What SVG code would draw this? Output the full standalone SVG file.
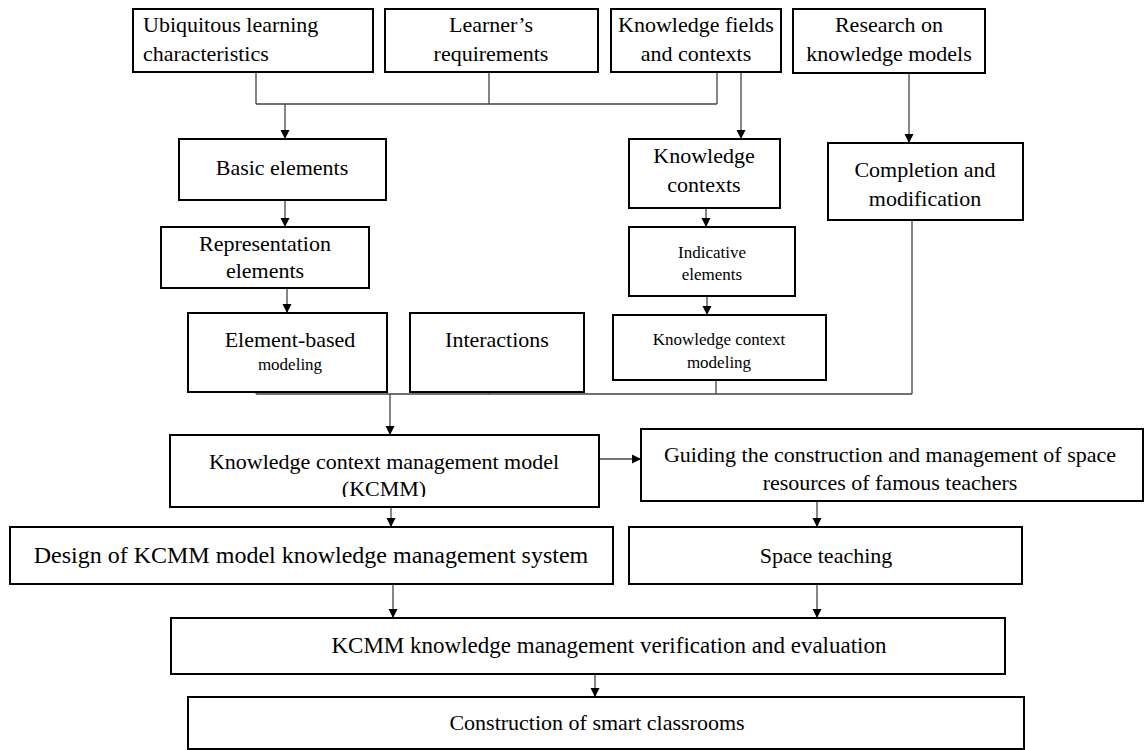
<svg xmlns="http://www.w3.org/2000/svg" width="1145" height="750" viewBox="0 0 1145 750">
<defs>
<marker id="ah" markerUnits="userSpaceOnUse" markerWidth="10" markerHeight="10" refX="9" refY="5" orient="auto">
<path d="M0,0.5 L9,5 L0,9.5 Z" fill="#000"/>
</marker>
<clipPath id="clipK"><rect x="170" y="435" width="429" height="62"/></clipPath>
<clipPath id="clipG"><rect x="641" y="429" width="502" height="63"/></clipPath>
<style>
.b{fill:#fff;stroke:#000;stroke-width:2}
.t{font-family:"Liberation Serif","Times New Roman",serif;font-size:22px;fill:#000;text-anchor:middle}
.l{text-anchor:start}
.s{font-size:17px}
.c{fill:none;stroke:#444;stroke-width:1.3}
.a{fill:none;stroke:#444;stroke-width:1.3;marker-end:url(#ah)}
</style>
</defs>
<rect width="1145" height="750" fill="#fff"/>
<g id="connectors">
<path class="c" d="M256,72 V104 M489,72 V104 M717,72 V104 M256,104 H717"/>
<path class="a" d="M285,104 V139"/>
<path class="a" d="M741,72 V139"/>
<path class="a" d="M909,73 V143"/>
<path class="a" d="M285,200 V227"/>
<path class="a" d="M287,288 V313"/>
<path class="a" d="M706,208 V227"/>
<path class="a" d="M707,296 V315"/>
<path class="c" d="M256,392 V394 M489,392 V394 M716,380 V394 M912,220 V394 M256,394 H912"/>
<path class="a" d="M390,394 V435"/>
<path class="a" d="M599,459 H641"/>
<path class="a" d="M391,507 V527"/>
<path class="a" d="M817,501 V527"/>
<path class="a" d="M393,584 V618"/>
<path class="a" d="M817,584 V618"/>
<path class="a" d="M595,674 V697"/>
</g>
<g id="n1"><rect class="b" x="133" y="9" width="240" height="63"/>
<text class="t l" x="143" y="32">Ubiquitous learning</text><text class="t l" x="143" y="61">characteristics</text></g>
<g id="n2"><rect class="b" x="385" y="9" width="213" height="63"/>
<text class="t" x="491" y="32">Learner’s</text><text class="t" x="491" y="61">requirements</text></g>
<g id="n3"><rect class="b" x="611" y="9" width="170" height="63"/>
<text class="t" x="696" y="32">Knowledge fields</text><text class="t" x="696" y="61">and contexts</text></g>
<g id="n4"><rect class="b" x="793" y="9" width="192" height="64"/>
<text class="t" x="889" y="32">Research on</text><text class="t" x="889" y="61">knowledge models</text></g>
<g id="n5"><rect class="b" x="179" y="139" width="207" height="61"/>
<text class="t" x="282" y="175">Basic elements</text></g>
<g id="n6"><rect class="b" x="629" y="139" width="151" height="69"/>
<text class="t" x="704" y="163">Knowledge</text><text class="t" x="704" y="192">contexts</text></g>
<g id="n7"><rect class="b" x="828" y="143" width="195" height="77"/>
<text class="t" x="925" y="177">Completion and</text><text class="t" x="925" y="206">modification</text></g>
<g id="n8"><rect class="b" x="161" y="227" width="208" height="61"/>
<text class="t" x="265" y="251">Representation</text><text class="t" x="265" y="278">elements</text></g>
<g id="n9"><rect class="b" x="629" y="227" width="166" height="69"/>
<text class="t s" x="712" y="258">Indicative</text><text class="t s" x="712" y="280">elements</text></g>
<g id="n10"><rect class="b" x="188" y="313" width="199" height="79"/>
<text class="t" x="290" y="347">Element-based</text><text class="t s" x="290" y="370">modeling</text></g>
<g id="n11"><rect class="b" x="410" y="313" width="174" height="79"/>
<text class="t" x="497" y="347">Interactions</text></g>
<g id="n12"><rect class="b" x="613" y="315" width="213" height="65"/>
<text class="t s" x="719" y="345">Knowledge context</text><text class="t s" x="719" y="368">modeling</text></g>
<g id="n13"><rect class="b" x="170" y="435" width="429" height="72"/>
<text class="t" x="384" y="469">Knowledge context management model</text><text class="t" x="384" y="496" clip-path="url(#clipK)">(KCMM)</text></g>
<g id="n14"><rect class="b" x="641" y="429" width="502" height="72"/>
<text class="t" x="890" y="462">Guiding the construction and management of space</text><text class="t" x="890" y="490" clip-path="url(#clipG)">resources of famous teachers</text></g>
<g id="n15"><rect class="b" x="10" y="527" width="603" height="57"/>
<text class="t" x="311" y="563" style="font-size:24px">Design of KCMM model knowledge management system</text></g>
<g id="n16"><rect class="b" x="629" y="527" width="393" height="57"/>
<text class="t" x="826" y="563">Space teaching</text></g>
<g id="n17"><rect class="b" x="171" y="618" width="834" height="56"/>
<text class="t" x="609" y="653" style="font-size:23px">KCMM knowledge management verification and evaluation</text></g>
<g id="n18"><rect class="b" x="188" y="697" width="836" height="52"/>
<text class="t" x="597" y="730">Construction of smart classrooms</text></g>
</svg>
